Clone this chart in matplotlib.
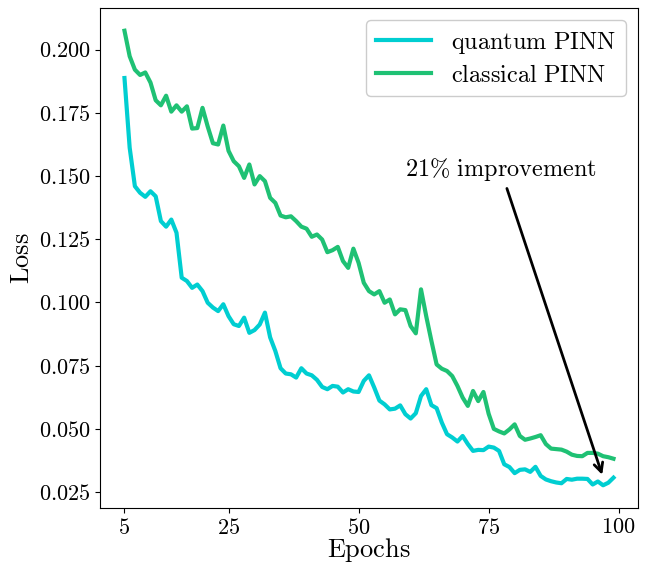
import matplotlib
matplotlib.use("Agg")
import matplotlib.pyplot as plt
from matplotlib.ticker import FuncFormatter, FixedLocator

plt.rcParams['mathtext.fontset'] = 'cm'
plt.rcParams['font.family'] = 'serif'
plt.rcParams['font.serif'] = ['cmr10', 'DejaVu Serif']
plt.rcParams['axes.unicode_minus'] = False

epochs = list(range(5, 100))

quantum = [0.1888, 0.1612, 0.1460, 0.1434, 0.1418, 0.1440, 0.1420, 0.1322, 0.1300, 0.1328,
           0.1276, 0.1098, 0.1085, 0.1058, 0.1071, 0.1045, 0.0999, 0.0980, 0.0966, 0.0993,
           0.0946, 0.0914, 0.0907, 0.0940, 0.0880, 0.0891, 0.0913, 0.0960, 0.0862, 0.0808,
           0.0740, 0.0719, 0.0716, 0.0703, 0.0740, 0.0719, 0.0712, 0.0694, 0.0666, 0.0657,
           0.0670, 0.0667, 0.0644, 0.0657, 0.0648, 0.0646, 0.0690, 0.0712, 0.0664, 0.0612,
           0.0597, 0.0577, 0.0580, 0.0593, 0.0558, 0.0541, 0.0562, 0.0630, 0.0657, 0.0594,
           0.0582, 0.0525, 0.0479, 0.0466, 0.0450, 0.0472, 0.0440, 0.0413, 0.0417, 0.0416,
           0.0430, 0.0426, 0.0413, 0.0360, 0.0349, 0.0325, 0.0338, 0.0340, 0.0330, 0.0350,
           0.0314, 0.0300, 0.0293, 0.0288, 0.0285, 0.0302, 0.0299, 0.0303, 0.0303, 0.0302,
           0.0280, 0.0292, 0.0277, 0.0287, 0.0307]

classical = [0.2075, 0.1974, 0.1921, 0.1900, 0.1910, 0.1870, 0.1800, 0.1780, 0.1818, 0.1755,
             0.1780, 0.1755, 0.1776, 0.1688, 0.1690, 0.1770, 0.1696, 0.1630, 0.1625, 0.1700,
             0.1600, 0.1559, 0.1539, 0.1493, 0.1546, 0.1467, 0.1500, 0.1480, 0.1414, 0.1394,
             0.1344, 0.1337, 0.1341, 0.1322, 0.1300, 0.1292, 0.1260, 0.1269, 0.1249, 0.1199,
             0.1207, 0.1220, 0.1164, 0.1137, 0.1213, 0.1157, 0.1078, 0.1045, 0.1032, 0.1045,
             0.0999, 0.1012, 0.0953, 0.0973, 0.0970, 0.0907, 0.0878, 0.1052, 0.0946, 0.0848,
             0.0755, 0.0738, 0.0729, 0.0709, 0.0670, 0.0624, 0.0591, 0.0650, 0.0610, 0.0646,
             0.0560, 0.0500, 0.0490, 0.0482, 0.0498, 0.0518, 0.0472, 0.0457, 0.0462, 0.0468,
             0.0475, 0.0440, 0.0422, 0.0420, 0.0418, 0.0410, 0.0398, 0.0393, 0.0392, 0.0405,
             0.0405, 0.0402, 0.0392, 0.0388, 0.0382]

xticks = [5, 25, 50, 75, 100]
yticks = [0.025, 0.050, 0.075, 0.100, 0.125, 0.150, 0.175, 0.200]

fig = plt.figure(figsize=(6.47, 5.65), dpi=100)
ax = fig.add_axes([0.1546, 0.1009, 0.8314, 0.8849])

ax.plot(epochs, quantum, color='#00CED1', lw=3, label=r'$\mathrm{quantum\ PINN}$')
ax.plot(epochs, classical, color='#1fc174', lw=3, label=r'$\mathrm{classical\ PINN}$')

ax.xaxis.set_major_locator(FixedLocator(xticks))
ax.yaxis.set_major_locator(FixedLocator(yticks))
ax.xaxis.set_major_formatter(FuncFormatter(lambda v, p: r'$%d$' % v))
ax.yaxis.set_major_formatter(FuncFormatter(lambda v, p: r'$%.3f$' % v))
ax.tick_params(labelsize=16)

ax.set_xlabel(r'$\mathrm{Epochs}$', fontsize=19, labelpad=-1)
ax.set_ylabel(r'$\mathrm{Loss}$', fontsize=19, labelpad=3)

ax.annotate(r'$\mathrm{21\%\ improvement}$', xy=(97.0, 0.0308), xytext=(77.3, 0.1526),
            fontsize=17.5, ha='center', va='center',
            arrowprops=dict(arrowstyle='->', color='black', lw=2, mutation_scale=16))

ax.legend(loc='upper right', fontsize=17.5, handlelength=2.3, borderpad=0.4,
          labelspacing=0.35, framealpha=1)

fig.savefig('out.png', dpi=100)
